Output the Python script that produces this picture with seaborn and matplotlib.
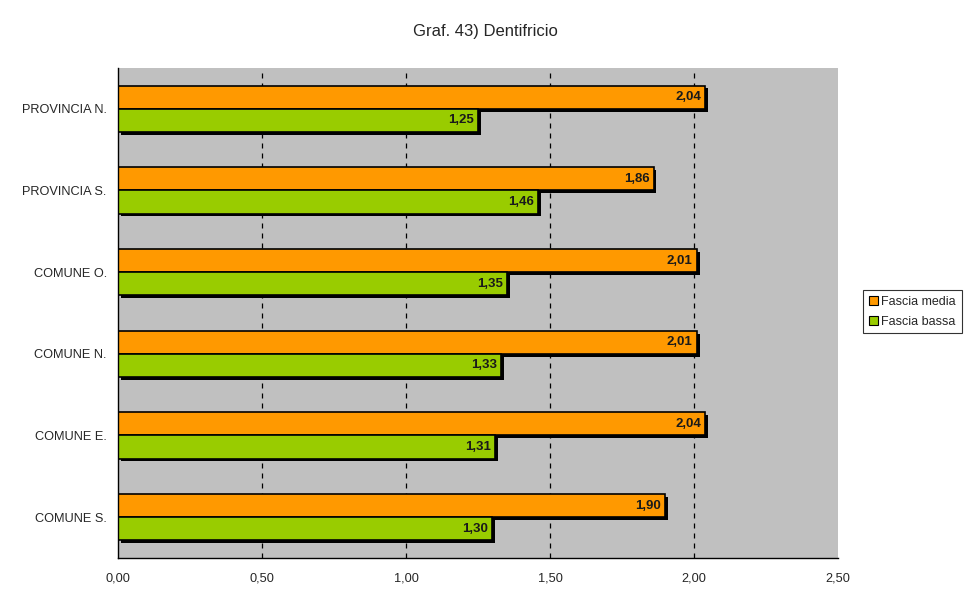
import matplotlib
matplotlib.use("Agg")
from matplotlib import pyplot as plt
import matplotlib.patheffects as pe
from matplotlib.patches import Patch
from matplotlib.ticker import FuncFormatter, FixedLocator
import pandas as pd
import seaborn as sns

# data
zones = ["PROVINCIA N.", "PROVINCIA S.", "COMUNE O.", "COMUNE N.", "COMUNE E.", "COMUNE S."]
fascia_media = [2.04, 1.86, 2.01, 2.01, 2.04, 1.90]
fascia_bassa = [1.25, 1.46, 1.35, 1.33, 1.31, 1.30]
series = ["Fascia media", "Fascia bassa"]
colors = ["#FF9900", "#99CC00"]

df = pd.DataFrame({
    "Zona": zones * 2,
    "Valore": fascia_media + fascia_bassa,
    "Serie": [series[0]] * len(zones) + [series[1]] * len(zones),
})

sns.set_style("white")
plt.rcParams["font.family"] = ["Liberation Sans", "DejaVu Sans"]

fig = plt.figure(figsize=(9.7, 6.04), dpi=100)
ax = fig.add_axes([0.1216, 0.0762, 0.7423, 0.8113])
ax.set_facecolor("#C0C0C0")

sns.barplot(data=df, x="Valore", y="Zona", hue="Serie", order=zones, hue_order=series,
            palette=colors, orient="h", width=0.565, edgecolor="black", linewidth=1.2,
            saturation=1, ax=ax, legend=False)

# excel-like drop shadow on the bars
shadow = [pe.SimplePatchShadow(offset=(2, -2), shadow_rgbFace="black", alpha=1), pe.Normal()]
for bar in ax.patches:
    bar.set_path_effects(shadow)

# value labels inside bar ends
for cont in ax.containers:
    for bar, v in zip(cont, cont.datavalues):
        ax.annotate(f"{v:.2f}".replace(".", ","), xy=(bar.get_x() + bar.get_width(), bar.get_y() + bar.get_height() / 2),
                    xytext=(-3, 0), textcoords="offset points", ha="right", va="center",
                    fontsize=9.5, fontweight="bold", color="#1a1a1a")

ax.set_xlim(0, 2.5)
ax.set_ylim(len(zones) - 0.5, -0.5)
ax.xaxis.set_major_locator(FixedLocator([0, 0.5, 1.0, 1.5, 2.0, 2.5]))
ax.xaxis.set_major_formatter(FuncFormatter(lambda v, p: f"{v:.2f}".replace(".", ",")))
for xv in [0.5, 1.0, 1.5, 2.0]:
    ax.axvline(xv, color="black", linestyle=(0, (4, 4)), linewidth=0.9, zorder=0.5)

# category boundary ticks on y axis
ax.set_yticks(range(len(zones)))
ax.set_yticks([i - 0.5 for i in range(len(zones) + 1)], minor=True)
ax.tick_params(axis="y", which="major", length=0, pad=8, labelsize=9.2)
ax.tick_params(axis="y", which="minor", length=4, width=0.9, color="black", direction="out")
ax.tick_params(axis="x", length=4, width=0.9, color="black", direction="out", labelsize=9.2, pad=6.5)
ax.set_xlabel("")
ax.set_ylabel("")

for side in ["top", "right"]:
    ax.spines[side].set_visible(False)
for side in ["left", "bottom"]:
    ax.spines[side].set_color("black")
    ax.spines[side].set_linewidth(1)

fig.text(0.5, 0.948, "Graf. 43) Dentifricio", ha="center", va="center", fontsize=12)

handles = [Patch(facecolor=c, edgecolor="black", linewidth=0.8, label=s) for c, s in zip(colors, series)]
leg = fig.legend(handles=handles, loc="center left", bbox_to_anchor=(0.89, 0.484), fontsize=9,
                 frameon=True, fancybox=False, edgecolor="black", handlelength=0.7, handleheight=0.7,
                 handletextpad=0.3, borderpad=0.45, labelspacing=0.65, borderaxespad=0)
leg.get_frame().set_linewidth(0.8)

fig.savefig("out.png", dpi=100)
